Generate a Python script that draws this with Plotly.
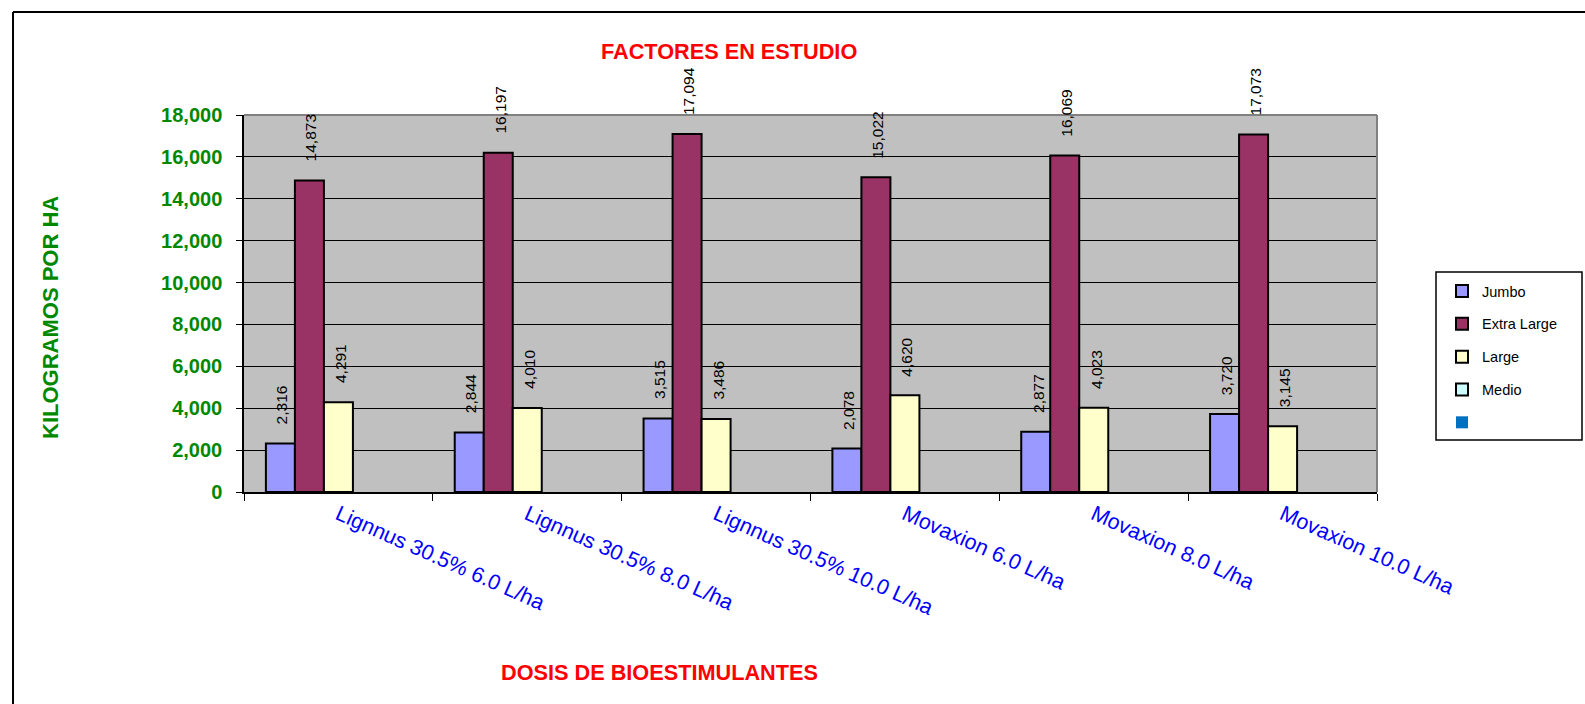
import plotly.graph_objects as go

categories = ["Lignnus 30.5% 6.0 L/ha", "Lignnus 30.5% 8.0 L/ha", "Lignnus 30.5% 10.0 L/ha",
              "Movaxion 6.0 L/ha", "Movaxion 8.0 L/ha", "Movaxion 10.0 L/ha"]
jumbo = [2316, 2844, 3515, 2078, 2877, 3720]
extra_large = [14873, 16197, 17094, 15022, 16069, 17073]
large = [4291, 4010, 3486, 4620, 4023, 3145]
medio = [None, None, None, None, None, None]
blank = [None, None, None, None, None, None]

series_names = ["Jumbo", "Extra Large", "Large", "Medio", " "]
series_values = [jumbo, extra_large, large, medio, blank]
series_colors = ["#9999FF", "#993366", "#FFFFCC", "#CCFFFF", "#0070C0"]

W, H = 1585, 704
L, R, T, B = 244, 1377, 115, 492
PW, PH = R - L, B - T


def px(x):
    return (x - L) / PW


def py(y):
    return (B - y) / PH


fig = go.Figure()
for i, (name, vals, col) in enumerate(zip(series_names, series_values, series_colors)):
    lw = 0 if name.strip() == "" else 2
    fig.add_trace(go.Bar(
        x=categories, y=vals, name=name, legendgroup=f"g{i}",
        marker=dict(color=col, line=dict(color="black", width=lw)),
    ))

bargap = 0.232
cat_px = PW / len(categories)
bar_px = cat_px * (1 - bargap) / len(series_names)

annotations = []
for i, vals in enumerate(series_values):
    for c, v in zip(categories, vals):
        if v is None:
            continue
        annotations.append(dict(
            x=c, y=v, xref="x", yref="y", text=f"{v:,}", showarrow=False,
            textangle=-90, xanchor="center", yanchor="bottom",
            xshift=(i - 2) * bar_px + 2, yshift=17,
            font=dict(family="Liberation Sans, Arial", size=15.5, color="black"),
        ))

annotations += [
    dict(x=px(729), y=py(51), xref="paper", yref="paper", text="FACTORES EN ESTUDIO",
         showarrow=False, xanchor="center", yanchor="middle",
         font=dict(family="Liberation Sans, Arial", size=21.7, color="#FF0000", weight="bold")),
    dict(x=px(659), y=py(672), xref="paper", yref="paper", text="DOSIS DE BIOESTIMULANTES",
         showarrow=False, xanchor="center", yanchor="middle",
         font=dict(family="Liberation Sans, Arial", size=21.7, color="#FF0000", weight="bold")),
    dict(x=px(50), y=py(318), xref="paper", yref="paper", text="KILOGRAMOS POR HA",
         showarrow=False, xanchor="center", yanchor="middle", textangle=-90,
         font=dict(family="Liberation Sans, Arial", size=22, color="#008800", weight="bold")),
]

shapes = [
    # outer frame (top and left)
    dict(type="line", xref="paper", yref="paper", x0=px(13), x1=px(1590), y0=py(12), y1=py(12),
         line=dict(color="black", width=2)),
    dict(type="line", xref="paper", yref="paper", x0=px(13), x1=px(13), y0=py(12), y1=py(720),
         line=dict(color="black", width=2)),
    # plot area top/right border
    dict(type="line", xref="paper", yref="paper", x0=0, x1=1, y0=1, y1=1,
         line=dict(color="#808080", width=2), layer="above"),
    dict(type="line", xref="paper", yref="paper", x0=1, x1=1, y0=0, y1=1,
         line=dict(color="#808080", width=2), layer="above"),
    # legend box
    dict(type="rect", xref="paper", yref="paper", x0=px(1436), x1=px(1582), y0=py(440), y1=py(272),
         line=dict(color="black", width=1.5), fillcolor="white", layer="below"),
]

fig.update_layout(
    width=W, height=H, autosize=False,
    margin=dict(l=L, r=W - R, t=T, b=H - B, pad=0),
    paper_bgcolor="white", plot_bgcolor="#C0C0C0",
    barmode="group", bargap=bargap, bargroupgap=0,
    font=dict(family="Liberation Sans, Arial"),
    showlegend=True,
    legend=dict(x=px(1442), y=py(275), xanchor="left", yanchor="top",
                bgcolor="rgba(0,0,0,0)", borderwidth=0, tracegroupgap=11,
                traceorder="grouped",
                font=dict(family="Liberation Sans, Arial", size=14.5, color="black")),
    annotations=annotations,
    shapes=shapes,
    xaxis=dict(
        type="category", showline=True, linecolor="black", linewidth=1.5,
        ticks="outside", ticklen=7, tickcolor="black", tickson="boundaries",
        tickangle=24, showgrid=False,
        tickfont=dict(family="Liberation Sans, Arial", size=21.5, color="#0000FF"),
    ),
    yaxis=dict(
        range=[0, 18000], dtick=2000, tickformat=",d",
        showline=True, linecolor="black", linewidth=1.5,
        ticks="outside", ticklen=6, tickcolor="black",
        showgrid=True, gridcolor="black", gridwidth=1, zeroline=False,
        tickfont=dict(family="Liberation Sans, Arial", size=20, color="#008800", weight="bold"),
        ticklabelstandoff=10,
    ),
)

fig.write_html("out.html")
